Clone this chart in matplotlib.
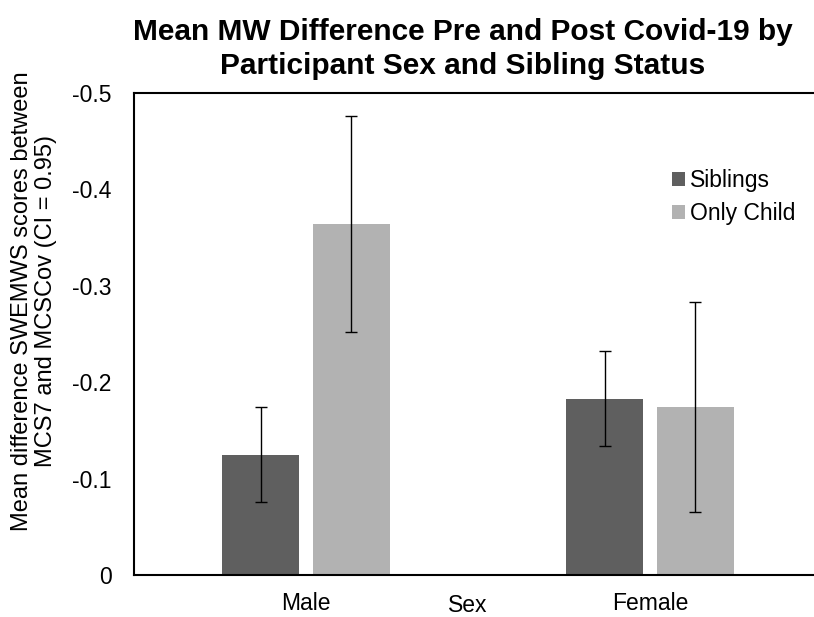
import matplotlib
matplotlib.use("Agg")
import matplotlib.pyplot as plt
import numpy as np

# group labels and series
sexes = ["Male", "Female"]
groups = ["Siblings", "Only Child"]

# mean difference per group (Male, Female)
siblings_mean = [-0.125, -0.183]
only_child_mean = [-0.364, -0.174]

# 95% CI bounds (near-zero end, far end)
siblings_ci_near = [-0.076, -0.134]
siblings_ci_far = [-0.174, -0.232]
only_child_ci_near = [-0.252, -0.065]
only_child_ci_far = [-0.476, -0.283]

colors = ["#5f5f5f", "#b2b2b2"]

plt.rcParams["font.family"] = ["Liberation Sans", "DejaVu Sans"]

fig = plt.figure(figsize=(8.14, 6.17), dpi=100)
ax = fig.add_axes([134 / 814, 42 / 617, 688 / 814, 482 / 617])

x = np.arange(len(sexes))
width = 0.224
offset = 0.132

def yerr(mean, near, far):
    mean = np.array(mean)
    return [np.abs(np.array(near) - mean), np.abs(np.array(far) - mean)]

err_style = dict(ecolor="black", elinewidth=1.0, capsize=4, capthick=1.0)
ax.bar(x - offset, siblings_mean, width, color=colors[0], label=groups[0],
       yerr=yerr(siblings_mean, siblings_ci_near, siblings_ci_far),
       error_kw=err_style)
ax.bar(x + offset, only_child_mean, width, color=colors[1], label=groups[1],
       yerr=yerr(only_child_mean, only_child_ci_near, only_child_ci_far),
       error_kw=err_style)

ax.set_xlim(-0.5, 1.5)
ax.set_ylim(0, -0.5)
ax.set_yticks([0, -0.1, -0.2, -0.3, -0.4, -0.5])
ax.set_yticklabels(["0", "-0.1", "-0.2", "-0.3", "-0.4", "-0.5"])
ax.set_xticks(x)
ax.set_xticklabels(sexes)
ax.tick_params(axis="both", length=0, labelsize=16.5)
ax.tick_params(axis="y", pad=16)
ax.tick_params(axis="x", pad=12)

for side in ["left", "top", "bottom"]:
    ax.spines[side].set_linewidth(1.5)
ax.spines["right"].set_visible(False)

fig.text(468 / 814, 1 - 605 / 617, "Sex", ha="center", va="center", fontsize=16.5)
fig.text(34 / 814, 1 - 301 / 617,
         "Mean difference SWEMWS scores between\nMCS7 and MCSCov (CI = 0.95)",
         rotation=90, ha="center", va="center", fontsize=17, linespacing=1.12)

fig.text(463 / 814, 1 - 49 / 617,
         "Mean MW Difference Pre and Post Covid-19 by\nParticipant Sex and Sibling Status",
         ha="center", va="center", fontsize=21.5, fontweight="bold",
         linespacing=1.3)

ax.legend(loc="upper left", bbox_to_anchor=(0.782, 0.843), frameon=False,
          fontsize=16.5, handlelength=0.57, handleheight=0.57, handletextpad=0.2,
          labelspacing=0.45, borderaxespad=0, borderpad=0)

fig.savefig("out.png", dpi=100)
